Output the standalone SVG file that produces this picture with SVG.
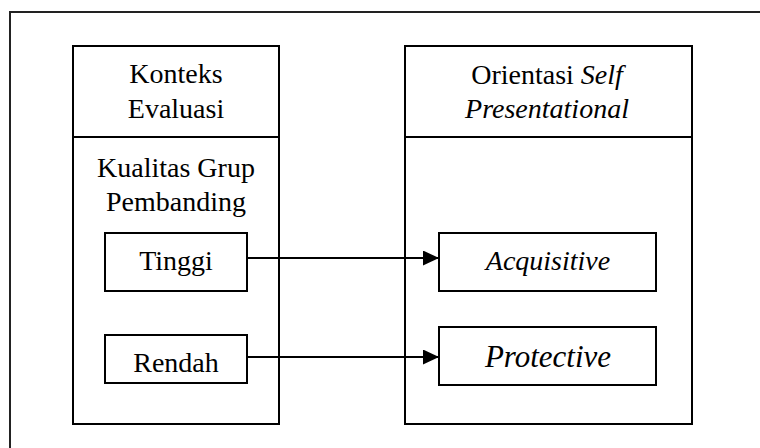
<svg xmlns="http://www.w3.org/2000/svg" width="760" height="448" viewBox="0 0 760 448">
<defs>
<marker id="ah" markerWidth="16" markerHeight="15" refX="16" refY="7.5" orient="auto" markerUnits="userSpaceOnUse">
<path d="M0,0 L16,7.5 L0,15 Z" fill="#000"/>
</marker>
</defs>
<style>
.box{fill:none;stroke:#000;stroke-width:2}
.t{font-family:"Liberation Serif","Times New Roman",serif;font-size:28px;fill:#000;text-anchor:middle}
.i{font-style:italic}
.c{stroke:#000;stroke-width:2;fill:none}
</style>
<rect width="760" height="448" fill="#fff"/>
<g id="frame"><rect x="10" y="12" width="800" height="500" fill="none" stroke="#222" stroke-width="2"/></g>
<g id="konteks">
<rect class="box" x="73" y="46" width="206" height="378"/>
<line class="c" x1="73" y1="137" x2="279" y2="137"/>
<text class="t" x="176" y="83">Konteks</text>
<text class="t" x="176" y="118">Evaluasi</text>
<text class="t" x="176" y="177">Kualitas Grup</text>
<text class="t" x="176" y="211">Pembanding</text>
</g>
<g id="orientasi">
<rect class="box" x="405" y="46" width="287" height="378"/>
<line class="c" x1="405" y1="137" x2="692" y2="137"/>
<text class="t" x="547" y="84">Orientasi <tspan class="i">Self</tspan></text>
<text class="t i" x="547" y="118">Presentational</text>
</g>
<g id="tinggi">
<rect class="box" x="105" y="233" width="142" height="58"/>
<text class="t" x="176" y="270">Tinggi</text>
</g>
<g id="rendah">
<rect class="box" x="105" y="335" width="142" height="48"/>
<text class="t" x="176" y="372">Rendah</text>
</g>
<g id="acquisitive">
<rect class="box" x="439" y="233" width="217" height="58"/>
<text class="t i" x="548" y="270">Acquisitive</text>
</g>
<g id="protective">
<rect class="box" x="439" y="327" width="217" height="58"/>
<text class="t i" x="548" y="367" style="font-size:31px">Protective</text>
</g>
<g id="connectors">
<line class="c" x1="247" y1="258" x2="439" y2="258" marker-end="url(#ah)"/>
<line class="c" x1="247" y1="357" x2="439" y2="357" marker-end="url(#ah)"/>
</g>
</svg>
